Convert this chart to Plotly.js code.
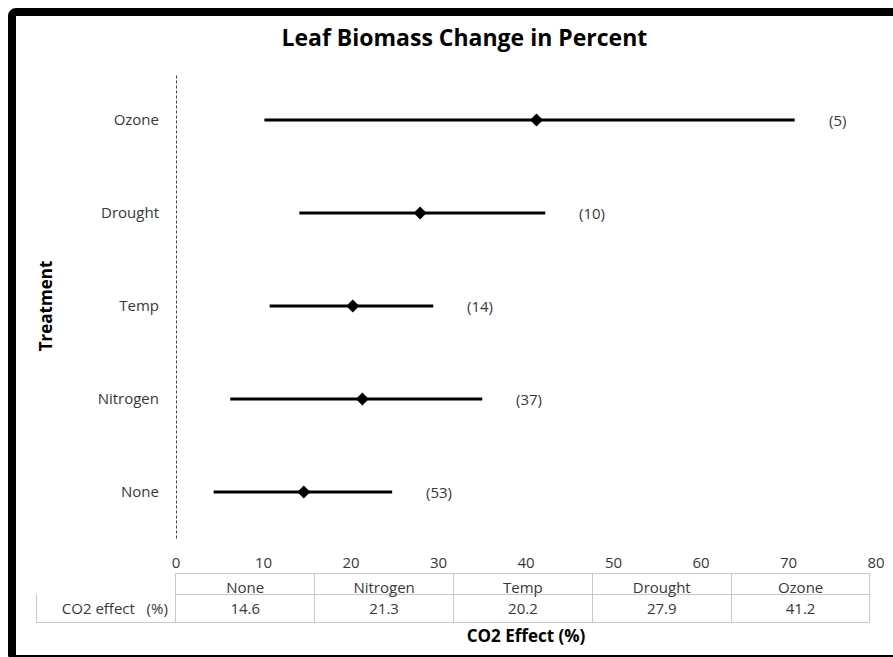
<!DOCTYPE html>
<html>
<head>
<meta charset="utf-8">
<script src="https://cdn.plot.ly/plotly-3.0.1.min.js"></script>
<style>
  html, body { margin: 0; padding: 0; background: #fff; overflow: hidden; }
  #chart { width: 893px; height: 657px; }
  #frame {
    position: absolute; left: 8px; top: 8px; width: 1000px; height: 655px;
    box-sizing: border-box; border: 8px solid #000; border-radius: 8px;
    pointer-events: none;
  }
</style>
</head>
<body>
<div id="chart"></div>
<div id="frame"></div>
<script>
// ---- data ----
const treatments = ['None', 'Nitrogen', 'Temp', 'Drought', 'Ozone'];
const co2Effect  = [14.6, 21.3, 20.2, 27.9, 41.2];
const lowerCI    = [4.3, 6.2, 10.7, 14.1, 10.1];
const upperCI    = [24.7, 35.0, 29.4, 42.2, 70.7];
const sampleN    = [53, 37, 14, 10, 5];
const xTicks     = [0, 10, 20, 30, 40, 50, 60, 70, 80];
const rowLabel   = 'CO2 effect \u00a0\u00a0(%)';

const FONT = 'Open Sans, Noto Sans, sans-serif';
const TXT = '#383838';

const errPlus  = upperCI.map((u, i) => +(u - co2Effect[i]).toFixed(2));
const errMinus = lowerCI.map((l, i) => +(co2Effect[i] - l).toFixed(2));

const forest = {
  type: 'scatter',
  mode: 'markers',
  x: co2Effect,
  y: treatments,
  marker: { symbol: 'diamond', size: 10, color: '#000' },
  error_x: {
    type: 'data', symmetric: false,
    array: errPlus, arrayminus: errMinus,
    thickness: 3, width: 0, color: '#000'
  },
  hoverinfo: 'x+y',
  showlegend: false,
  xaxis: 'x', yaxis: 'y'
};

const table = {
  type: 'table',
  domain: { x: [0.0082, 0.9859], y: [0, 0.0935] },
  columnwidth: treatments.map(() => 1).concat([1]),
  header: {
    values: [''].concat(treatments),
    align: 'center',
    height: 21,
    line: { color: ['rgba(0,0,0,0)'].concat(treatments.map(() => '#c8c8c8')), width: 1 },
    fill: { color: '#fff' },
    font: { family: FONT, size: 15, color: TXT }
  },
  cells: {
    values: [[rowLabel]].concat(co2Effect.map(v => [v.toFixed(1)])),
    align: ['right'].concat(treatments.map(() => 'center')),
    height: 28,
    line: { color: '#c8c8c8', width: 1 },
    fill: { color: '#fff' },
    font: { family: FONT, size: 15, color: TXT }
  }
};

const annotations = treatments.map((t, i) => ({
  x: upperCI[i], y: t, xref: 'x', yref: 'y',
  text: '(' + sampleN[i] + ')',
  showarrow: false, xanchor: 'left', xshift: 32,
  font: { family: FONT, size: 15, color: TXT }
}));

const layout = {
  width: 893, height: 657,
  margin: { l: 30, r: 10, t: 60, b: 30 },
  paper_bgcolor: '#fff', plot_bgcolor: '#fff',
  font: { family: FONT, color: TXT },
  title: {
    text: '<b>Leaf Biomass Change in Percent</b>',
    font: { family: FONT, size: 23, color: '#000' },
    xref: 'container', yref: 'container',
    x: 0.52, xanchor: 'center', y: 0.942, yanchor: 'middle'
  },
  xaxis: {
    domain: [0.17116, 0.9918],
    range: [0, 80],
    tickmode: 'array', tickvals: xTicks, ticktext: xTicks.map(String),
    showgrid: false, zeroline: false, showline: false,
    ticks: 'outside', ticklen: 11, tickcolor: 'rgba(0,0,0,0)',
    tickfont: { family: FONT, size: 15, color: TXT },
    automargin: false,
    title: {
      text: '<b>CO2 Effect (%)</b>',
      font: { family: FONT, size: 17, color: '#000' },
      standoff: 58
    }
  },
  yaxis: {
    domain: [0.1561, 0.9762],
    type: 'category',
    categoryorder: 'array', categoryarray: treatments,
    range: [-0.5, 4.5],
    showgrid: false, zeroline: false, showline: false,
    ticks: 'outside', ticklen: 13, tickcolor: 'rgba(0,0,0,0)',
    tickfont: { family: FONT, size: 15, color: TXT },
    automargin: false,
    title: {
      text: '<b>Treatment</b>',
      font: { family: FONT, size: 17, color: '#000' },
      standoff: 40
    }
  },
  shapes: [{
    type: 'line', xref: 'x', yref: 'y domain',
    x0: 0, x1: 0, y0: 0, y1: 1,
    line: { color: '#000', width: 1.5, dash: '3px,2px' }
  }],
  annotations: annotations
};

Plotly.newPlot('chart', [forest, table], layout, { displayModeBar: false, staticPlot: true });
</script>
</body>
</html>
